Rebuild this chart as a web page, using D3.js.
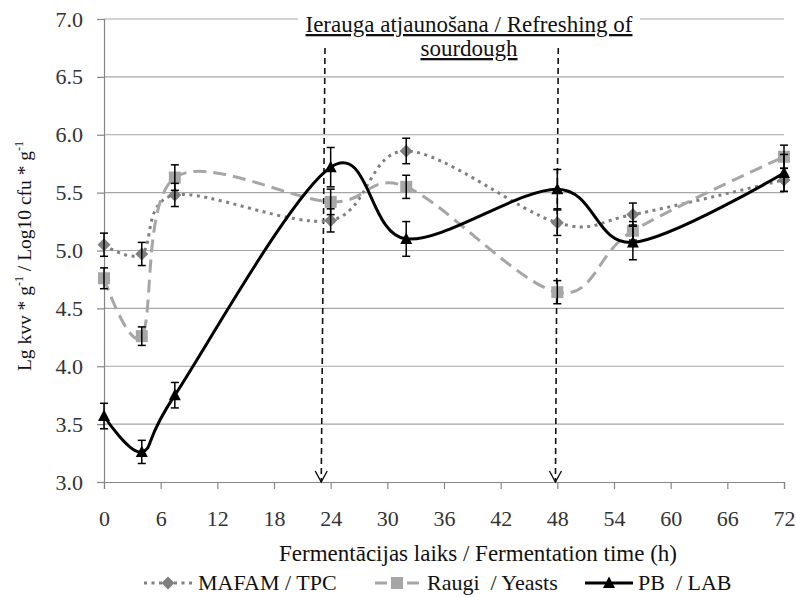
<!DOCTYPE html>
<html><head><meta charset="utf-8">
<script src="https://cdn.jsdelivr.net/npm/d3@7/dist/d3.min.js"></script>
<style>body{margin:0;background:#fff}svg{display:block}
svg text{font-family:"Liberation Serif","Times New Roman","DejaVu Serif",serif !important;}</style>
</head><body>
<script>
// ---- data ----
const hours = [0, 4, 7.5, 24, 32, 48, 56, 72];
const mafam = [5.05, 4.97, 5.48, 5.26, 5.86, 5.24, 5.31, 5.61];
const mafamErr = [0.10, 0.10, 0.10, 0.10, 0.11, 0.11, 0.10, 0.10];
const yeasts = [4.76, 4.26, 5.63, 5.42, 5.55, 4.64, 5.17, 5.81];
const yeastsErr = [0.09, 0.08, 0.11, 0.11, 0.10, 0.10, 0.08, 0.10];
const lab = [3.57, 3.26, 3.75, 5.72, 5.10, 5.53, 5.07, 5.67];
const labErr = [0.11, 0.10, 0.11, 0.17, 0.15, 0.17, 0.15, 0.16];
const xTicks = [0, 6, 12, 18, 24, 30, 36, 42, 48, 54, 60, 66, 72];
const yTicks = [3.0, 3.5, 4.0, 4.5, 5.0, 5.5, 6.0, 6.5, 7.0];
const refreshTop = [23.4, 48.1];
const refreshBottom = [23.0, 47.8];
const seriesNames = ["MAFAM / TPC", "Raugi\u00a0 / Yeasts", "PB\u00a0 / LAB"];
const annotationLines = ["Ierauga atjaunošana / Refreshing of", "sourdough"];
const xTitle = "Fermentācijas laiks / Fermentation time (h)";

const W = 796, H = 598;
const L = 104, R = 784, T = 19, B = 482;

const svg = d3.select("body").append("svg").attr("width", W).attr("height", H);

const x = d3.scaleLinear().domain([0, 72]).range([L, R]);
const y = d3.scaleLinear().domain([3, 7]).range([B, T]);

// gridlines
svg.append("g").selectAll("line").data(yTicks.filter(d => d > 3)).join("line")
  .attr("x1", L).attr("x2", R).attr("y1", d => y(d)).attr("y2", d => y(d))
  .attr("stroke", "#a6a6a6").attr("stroke-width", 1.2);

// axes
const xAxis = svg.append("g").attr("transform", `translate(0,${B})`)
  .call(d3.axisBottom(x).tickValues(xTicks).tickSize(7).tickFormat(d3.format("d")));
const yAxis = svg.append("g").attr("transform", `translate(${L},0)`)
  .call(d3.axisLeft(y).tickValues(yTicks).tickSize(7).tickPadding(14).tickFormat(d3.format(".1f")));
[xAxis, yAxis].forEach(a => {
  a.attr("font-family", null);
  a.select(".domain").attr("stroke", "#868686").attr("stroke-width", 1.2);
  a.selectAll(".tick line").attr("stroke", "#868686").attr("stroke-width", 1.2);
  a.selectAll(".tick text").attr("fill", "#333").style("font-size", "22px");
});
xAxis.selectAll(".tick text").attr("dy", null).attr("y", 44);

// refresh arrows
const arrows = svg.append("g");
refreshTop.forEach((t, i) => {
  const x1 = x(t), x2 = x(refreshBottom[i]);
  arrows.append("line").attr("x1", x1).attr("y1", 48).attr("x2", x2).attr("y2", B)
    .attr("stroke", "#111").attr("stroke-width", 1.6).attr("stroke-dasharray", "6,4");
  arrows.append("path").attr("d", `M${x2 - 6},${B - 11}L${x2},${B}L${x2 + 6},${B - 11}`)
    .attr("fill", "none").attr("stroke", "#111").attr("stroke-width", 1.4);
});

const curve = d3.curveCardinal.tension(0);
const line = vals => d3.line().x((d, i) => x(hours[i])).y(d => y(d)).curve(curve)(vals);

// lines
svg.append("path").attr("d", line(mafam)).attr("fill", "none")
  .attr("stroke", "#808080").attr("stroke-width", 3).attr("stroke-dasharray", "3,4.5");
svg.append("path").attr("d", line(yeasts)).attr("fill", "none")
  .attr("stroke", "#a6a6a6").attr("stroke-width", 3).attr("stroke-dasharray", "13,7");
svg.append("path").attr("d", line(lab)).attr("fill", "none")
  .attr("stroke", "#000").attr("stroke-width", 3);

// markers
const diamond = "M0,-6.5L6.5,0L0,6.5L-6.5,0Z";
const square = "M-6,-6H6V6H-6Z";
const tri = "M0,-6.5L6,5L-6,5Z";
function markers(vals, sym, color) {
  svg.append("g").selectAll("path").data(vals).join("path")
    .attr("d", sym).attr("fill", color)
    .attr("transform", (d, i) => `translate(${x(hours[i])},${y(d)})`);
}
markers(mafam, diamond, "#7f7f7f");
markers(yeasts, square, "#a6a6a6");
markers(lab, tri, "#000");

// error bars
function errBars(vals, errs) {
  const g = svg.append("g").attr("stroke", "#000").attr("stroke-width", 1.5);
  vals.forEach((v, i) => {
    const cx = x(hours[i]), y1 = y(v + errs[i]), y2 = y(v - errs[i]);
    g.append("line").attr("x1", cx).attr("x2", cx).attr("y1", y1).attr("y2", y2);
    g.append("line").attr("x1", cx - 4).attr("x2", cx + 4).attr("y1", y1).attr("y2", y1);
    g.append("line").attr("x1", cx - 4).attr("x2", cx + 4).attr("y1", y2).attr("y2", y2);
  });
}
errBars(mafam, mafamErr);
errBars(yeasts, yeastsErr);
errBars(lab, labErr);

// annotation
const ann = svg.append("g");
ann.append("rect").attr("x", 298).attr("y", 14).attr("width", 342).attr("height", 10).attr("fill", "#fff");
annotationLines.forEach((t, i) => {
  ann.append("text").attr("x", 469).attr("y", 32 + i * 24).attr("text-anchor", "middle")
    .style("font-size", "23px").style("text-decoration", "underline").attr("fill", "#111").text(t);
});

// axis titles
svg.append("text").attr("x", 478).attr("y", 561).attr("text-anchor", "middle")
  .style("font-size", "23px").attr("fill", "#111").text(xTitle);
const yt = svg.append("text").attr("transform", "translate(31,256) rotate(-90)")
  .attr("text-anchor", "middle").style("font-size", "19.5px").attr("fill", "#111");
yt.append("tspan").text("Lg kvv * g");
yt.append("tspan").attr("dy", -8).style("font-size", "12px").text("-1");
yt.append("tspan").attr("dy", 8).text(" / Log10 cfu * g");
yt.append("tspan").attr("dy", -8).style("font-size", "12px").text("-1");

// legend
const leg = svg.append("g");
const ly = 590, lm = 583;
const legItems = [
  {cx: 168, tx: 198, color: "#808080", dash: "3,4.5", sym: diamond, mcol: "#7f7f7f", w: 24},
  {cx: 397, tx: 427, color: "#a6a6a6", dash: "12,20", sym: square, mcol: "#a6a6a6", w: 22},
  {cx: 609, tx: 638, color: "#000", dash: null, sym: tri, mcol: "#000", w: 24}
];
legItems.forEach((it, i) => {
  leg.append("line").attr("x1", it.cx - it.w).attr("x2", it.cx + it.w).attr("y1", lm).attr("y2", lm)
    .attr("stroke", it.color).attr("stroke-width", 3).attr("stroke-dasharray", it.dash);
  leg.append("path").attr("d", it.sym).attr("fill", it.mcol)
    .attr("transform", `translate(${it.cx},${lm})`);
  leg.append("text").attr("x", it.tx).attr("y", ly).style("font-size", "22px").attr("fill", "#111")
    .text(seriesNames[i]);
});
</script>
</body></html>
